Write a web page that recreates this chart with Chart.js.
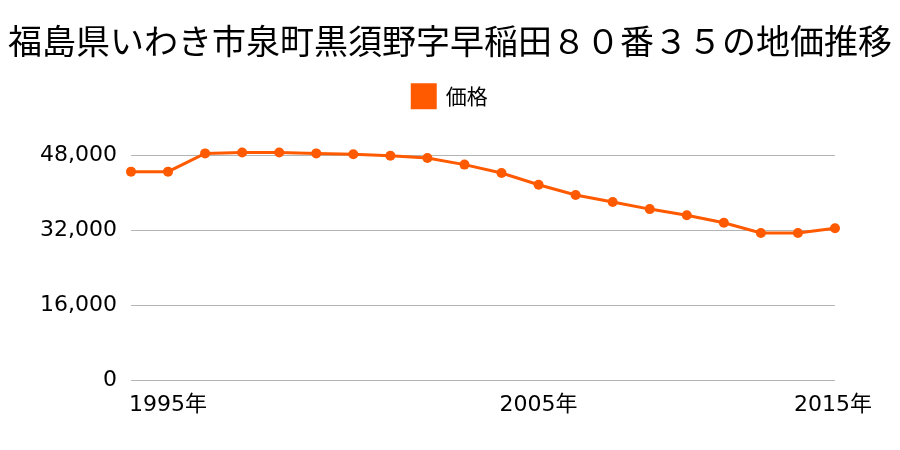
<!DOCTYPE html>
<html>
<head>
<meta charset="utf-8">
<script src="https://cdn.jsdelivr.net/npm/chart.js@4/dist/chart.umd.min.js"></script>
<style>
  html, body { margin: 0; padding: 0; background: #fff; }
  #wrap { width: 900px; height: 450px; }
</style>
</head>
<body>
<div id="wrap"><canvas id="chart" width="900" height="450"></canvas></div>
<script>
const years = [1995, 1996, 1997, 1998, 1999, 2000, 2001, 2002, 2003, 2004,
               2005, 2006, 2007, 2008, 2009, 2010, 2011, 2012, 2013, 2014];
const prices = [44500, 44500, 48400, 48600, 48600, 48400, 48200, 47900, 47400, 46000,
                44200, 41700, 39500, 38000, 36500, 35200, 33600, 31400, 31400, 32400];
const yTicks = [0, 16000, 32000, 48000];
// x-axis labels as printed on the reference (index into years -> text)
const xTickIndex = [0, 10, 19];
const xTickText = ['1995年', '2005年', '2015年'];

const lineColor = '#ff5a00';
const cjk = '"Noto Sans CJK JP", sans-serif';
const num = '"DejaVu Sans", "Noto Sans CJK JP", sans-serif';

// draw the sparse year labels under the plot, placed by the x scale
const xLabels = {
    id: 'xLabels',
    afterDraw(chart) {
        const ctx = chart.ctx;
        const xs = chart.scales.x;
        const rightLimit = 872;
        ctx.save();
        ctx.font = '22px ' + num;
        ctx.fillStyle = '#000';
        ctx.textAlign = 'left';
        ctx.textBaseline = 'middle';
        xTickIndex.forEach((idx, i) => {
            const w = ctx.measureText(xTickText[i]).width;
            let x = xs.getPixelForValue(idx) - 2;
            if (x + w > rightLimit) x = rightLimit - w;
            ctx.fillText(xTickText[i], x, chart.chartArea.bottom + 25);
        });
        ctx.restore();
    }
};

new Chart(document.getElementById('chart'), {
    type: 'line',
    data: {
        labels: years.map(String),
        datasets: [{
            label: '価格',
            data: prices,
            borderColor: lineColor,
            backgroundColor: lineColor,
            borderWidth: 3,
            pointRadius: 5,
            pointBackgroundColor: lineColor,
            pointBorderWidth: 0,
            tension: 0,
            clip: false
        }]
    },
    options: {
        responsive: false,
        animation: false,
        layout: { padding: { left: 0, right: 0, bottom: 70, top: 0 } },
        plugins: {
            title: {
                display: true,
                text: '福島県いわき市泉町黒須野字早稲田８０番３５の地価推移',
                color: '#000',
                font: { family: cjk, size: 34, weight: 'normal' },
                padding: { top: 21, bottom: 13 }
            },
            legend: {
                labels: {
                    color: '#000',
                    font: { family: cjk, size: 21 },
                    boxWidth: 23,
                    boxHeight: 23,
                    padding: 10
                }
            },
            tooltip: { enabled: false }
        },
        scales: {
            x: {
                display: false,
                offset: false
            },
            y: {
                min: 0,
                max: 56000,
                afterBuildTicks: axis => { axis.ticks = yTicks.map(v => ({ value: v })); },
                afterFit: axis => { axis.width = 131; },
                border: { display: false },
                grid: { color: '#b4b4b4', lineWidth: 1, drawTicks: false },
                ticks: {
                    color: '#000',
                    padding: 14,
                    font: { family: num, size: 22 },
                    callback: v => v.toLocaleString('en-US')
                }
            },
            // empty right-hand axis that only reserves the right margin
            yRight: {
                position: 'right',
                display: true,
                afterFit: axis => { axis.width = 65; },
                border: { display: false },
                grid: { display: false, drawTicks: false },
                ticks: { display: false }
            }
        }
    },
    plugins: [xLabels]
});
</script>
</body>
</html>
